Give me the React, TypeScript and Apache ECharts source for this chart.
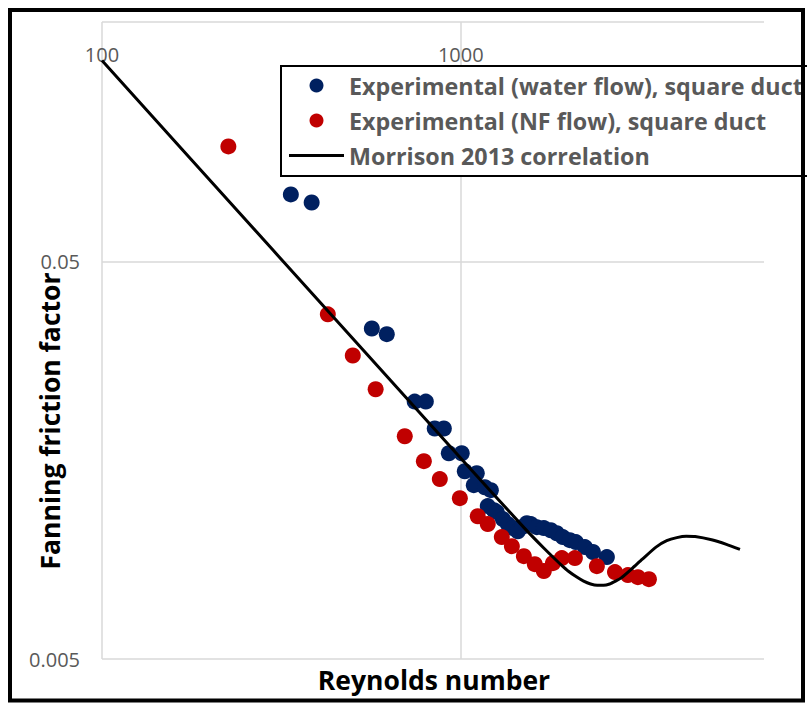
import React, { useEffect, useRef } from 'react';
import * as echarts from 'echarts';

// Axis ranges (log scales)
const X_MIN = 100;
const X_MAX = 7000;
const Y_MIN = 0.005;
const Y_MAX = 0.2;

// Experimental (water flow), square duct
const waterRe = [336, 384, 565, 622, 744, 799, 846, 897, 926, 1006, 1026, 1108, 1087, 1167, 1213, 1189, 1237, 1260, 1310, 1352, 1397, 1442, 1480, 1528, 1568, 1629, 1704, 1782, 1852, 1925, 2014, 2093, 2218, 2335, 2554];
const waterF = [0.0737, 0.0703, 0.0339, 0.0328, 0.0222, 0.0222, 0.019, 0.019, 0.01646, 0.01646, 0.01483, 0.01466, 0.01368, 0.01352, 0.01329, 0.01212, 0.01184, 0.0117, 0.01124, 0.01092, 0.01067, 0.01048, 0.01073, 0.01098, 0.01092, 0.01073, 0.01067, 0.01054, 0.01036, 0.01013, 0.00995, 0.00984, 0.00956, 0.00929, 0.00902];

// Experimental (NF flow), square duct
const nfRe = [225, 426, 500, 579, 698, 789, 874, 994, 1115, 1189, 1301, 1388, 1499, 1608, 1704, 1806, 1913, 2080, 2395, 2690, 2923, 3117, 3345];
const nfF = [0.0973, 0.0368, 0.029, 0.02384, 0.01816, 0.01572, 0.01417, 0.01269, 0.01143, 0.01092, 0.01013, 0.00961, 0.00907, 0.00866, 0.00832, 0.00871, 0.00897, 0.00897, 0.00856, 0.00827, 0.00813, 0.00803, 0.00794];

// Morrison 2013 correlation
const morrisonRe = [100, 300, 1000, 1500, 1700, 1800, 1900, 2000, 2100, 2200, 2300, 2400, 2500, 2600, 2700, 2800, 3000, 3200, 3500, 3750, 4000, 4250, 4500, 5000, 5500, 6000];
const morrisonF = [0.16, 0.0533, 0.016, 0.0107, 0.00952, 0.00905, 0.00864, 0.0083, 0.00805, 0.00785, 0.00772, 0.00766, 0.00766, 0.00772, 0.00785, 0.008, 0.00844, 0.0089, 0.00956, 0.00992, 0.0101, 0.01018, 0.01016, 0.00997, 0.00971, 0.00943];

const seriesNames = [
  'Experimental (water flow), square duct',
  'Experimental (NF flow), square duct',
  'Morrison 2013 correlation',
];
const xTitle = 'Reynolds number';
const yTitle = 'Fanning friction factor';

const FONT = '"Open Sans", "Noto Sans", sans-serif';

const lx = (v: number) => Math.log10(v / X_MIN);
const ly = (v: number) => Math.log10(v / Y_MIN);
const pairs = (xs: number[], ys: number[]) => xs.map((x, i) => [lx(x), ly(ys[i])]);

const decadeLabel = (base: number) => (v: number) => {
  const r = Math.round(v);
  if (Math.abs(v - r) > 1e-6) return '';
  return String(+(base * Math.pow(10, r)).toPrecision(6));
};

export default function App() {
  const ref = useRef<HTMLDivElement>(null);
  useEffect(() => {
    if (!ref.current) return;
    const chart = echarts.init(ref.current, undefined, { renderer: 'svg' });
    const gridColor = '#d9d9d9';
    chart.setOption({
      animation: false,
      backgroundColor: '#ffffff',
      grid: { left: 102, top: 22, width: 662, height: 637, containLabel: false, outerBoundsMode: 'none' },
      xAxis: {
        type: 'value',
        position: 'top',
        min: 0,
        max: lx(X_MAX),
        interval: 1,
        axisLine: { show: false },
        axisTick: { show: false },
        axisLabel: {
          inside: true,
          margin: 22,
          color: '#595959',
          fontFamily: FONT,
          fontSize: 20,
          showMaxLabel: false,
          formatter: decadeLabel(X_MIN),
        },
        splitLine: { show: true, showMaxLine: false, lineStyle: { color: gridColor, width: 1.5 } },
      },
      yAxis: {
        type: 'value',
        min: 0,
        max: ly(Y_MAX),
        interval: 1,
        axisLine: { show: false },
        axisTick: { show: false },
        axisLabel: {
          margin: 22,
          color: '#595959',
          fontFamily: FONT,
          fontSize: 20,
          showMaxLabel: false,
          formatter: decadeLabel(Y_MIN),
        },
        splitLine: { show: true, lineStyle: { color: gridColor, width: 1.5 } },
      },
      legend: {
        orient: 'vertical',
        left: 281,
        top: 66,
        padding: [8, 8, 9, 8],
        itemGap: 12,
        itemWidth: 55,
        itemHeight: 14,
        borderColor: '#000',
        borderWidth: 2,
        backgroundColor: '#fff',
        data: [
          { name: seriesNames[0] },
          { name: seriesNames[1] },
          { name: seriesNames[2], icon: 'path://M0,0H55V3H0Z' },
        ],
        textStyle: { color: '#595959', fontFamily: FONT, fontWeight: 'bold', fontSize: 23.3 },
      },
      series: [
        {
          name: seriesNames[0],
          type: 'scatter',
          data: pairs(waterRe, waterF),
          symbol: 'circle',
          symbolSize: 16,
          itemStyle: { color: '#002060', opacity: 1 },
          z: 3,
        },
        {
          name: seriesNames[1],
          type: 'scatter',
          data: pairs(nfRe, nfF),
          symbol: 'circle',
          symbolSize: 16,
          itemStyle: { color: '#C00000', opacity: 1 },
          z: 3,
        },
        {
          name: seriesNames[2],
          type: 'line',
          data: pairs(morrisonRe, morrisonF),
          showSymbol: false,
          symbol: 'none',
          smooth: 0.2,
          lineStyle: { color: '#000', width: 3 },
          itemStyle: { color: '#000' },
          z: 4,
        },
      ],
      graphic: [
        {
          type: 'text',
          x: 434,
          y: 680,
          style: {
            text: xTitle,
            fill: '#000',
            font: `bold 26.5px ${FONT}`,
            textAlign: 'center',
            textVerticalAlign: 'middle',
          },
        },
        {
          type: 'text',
          x: 50,
          y: 421,
          rotation: Math.PI / 2,
          style: {
            text: yTitle,
            fill: '#000',
            font: `bold 26.5px ${FONT}`,
            textAlign: 'center',
            textVerticalAlign: 'middle',
          },
        },
        {
          type: 'rect',
          shape: { x: 10, y: 10, width: 793, height: 690.5 },
          style: { fill: 'none', stroke: '#000', lineWidth: 4 },
          z: 100,
        },
      ],
    });
    return () => chart.dispose();
  }, []);
  return (
    <div
      ref={ref}
      style={{ position: 'fixed', left: 0, top: 0, width: 807, height: 703, background: '#fff' }}
    />
  );
}
